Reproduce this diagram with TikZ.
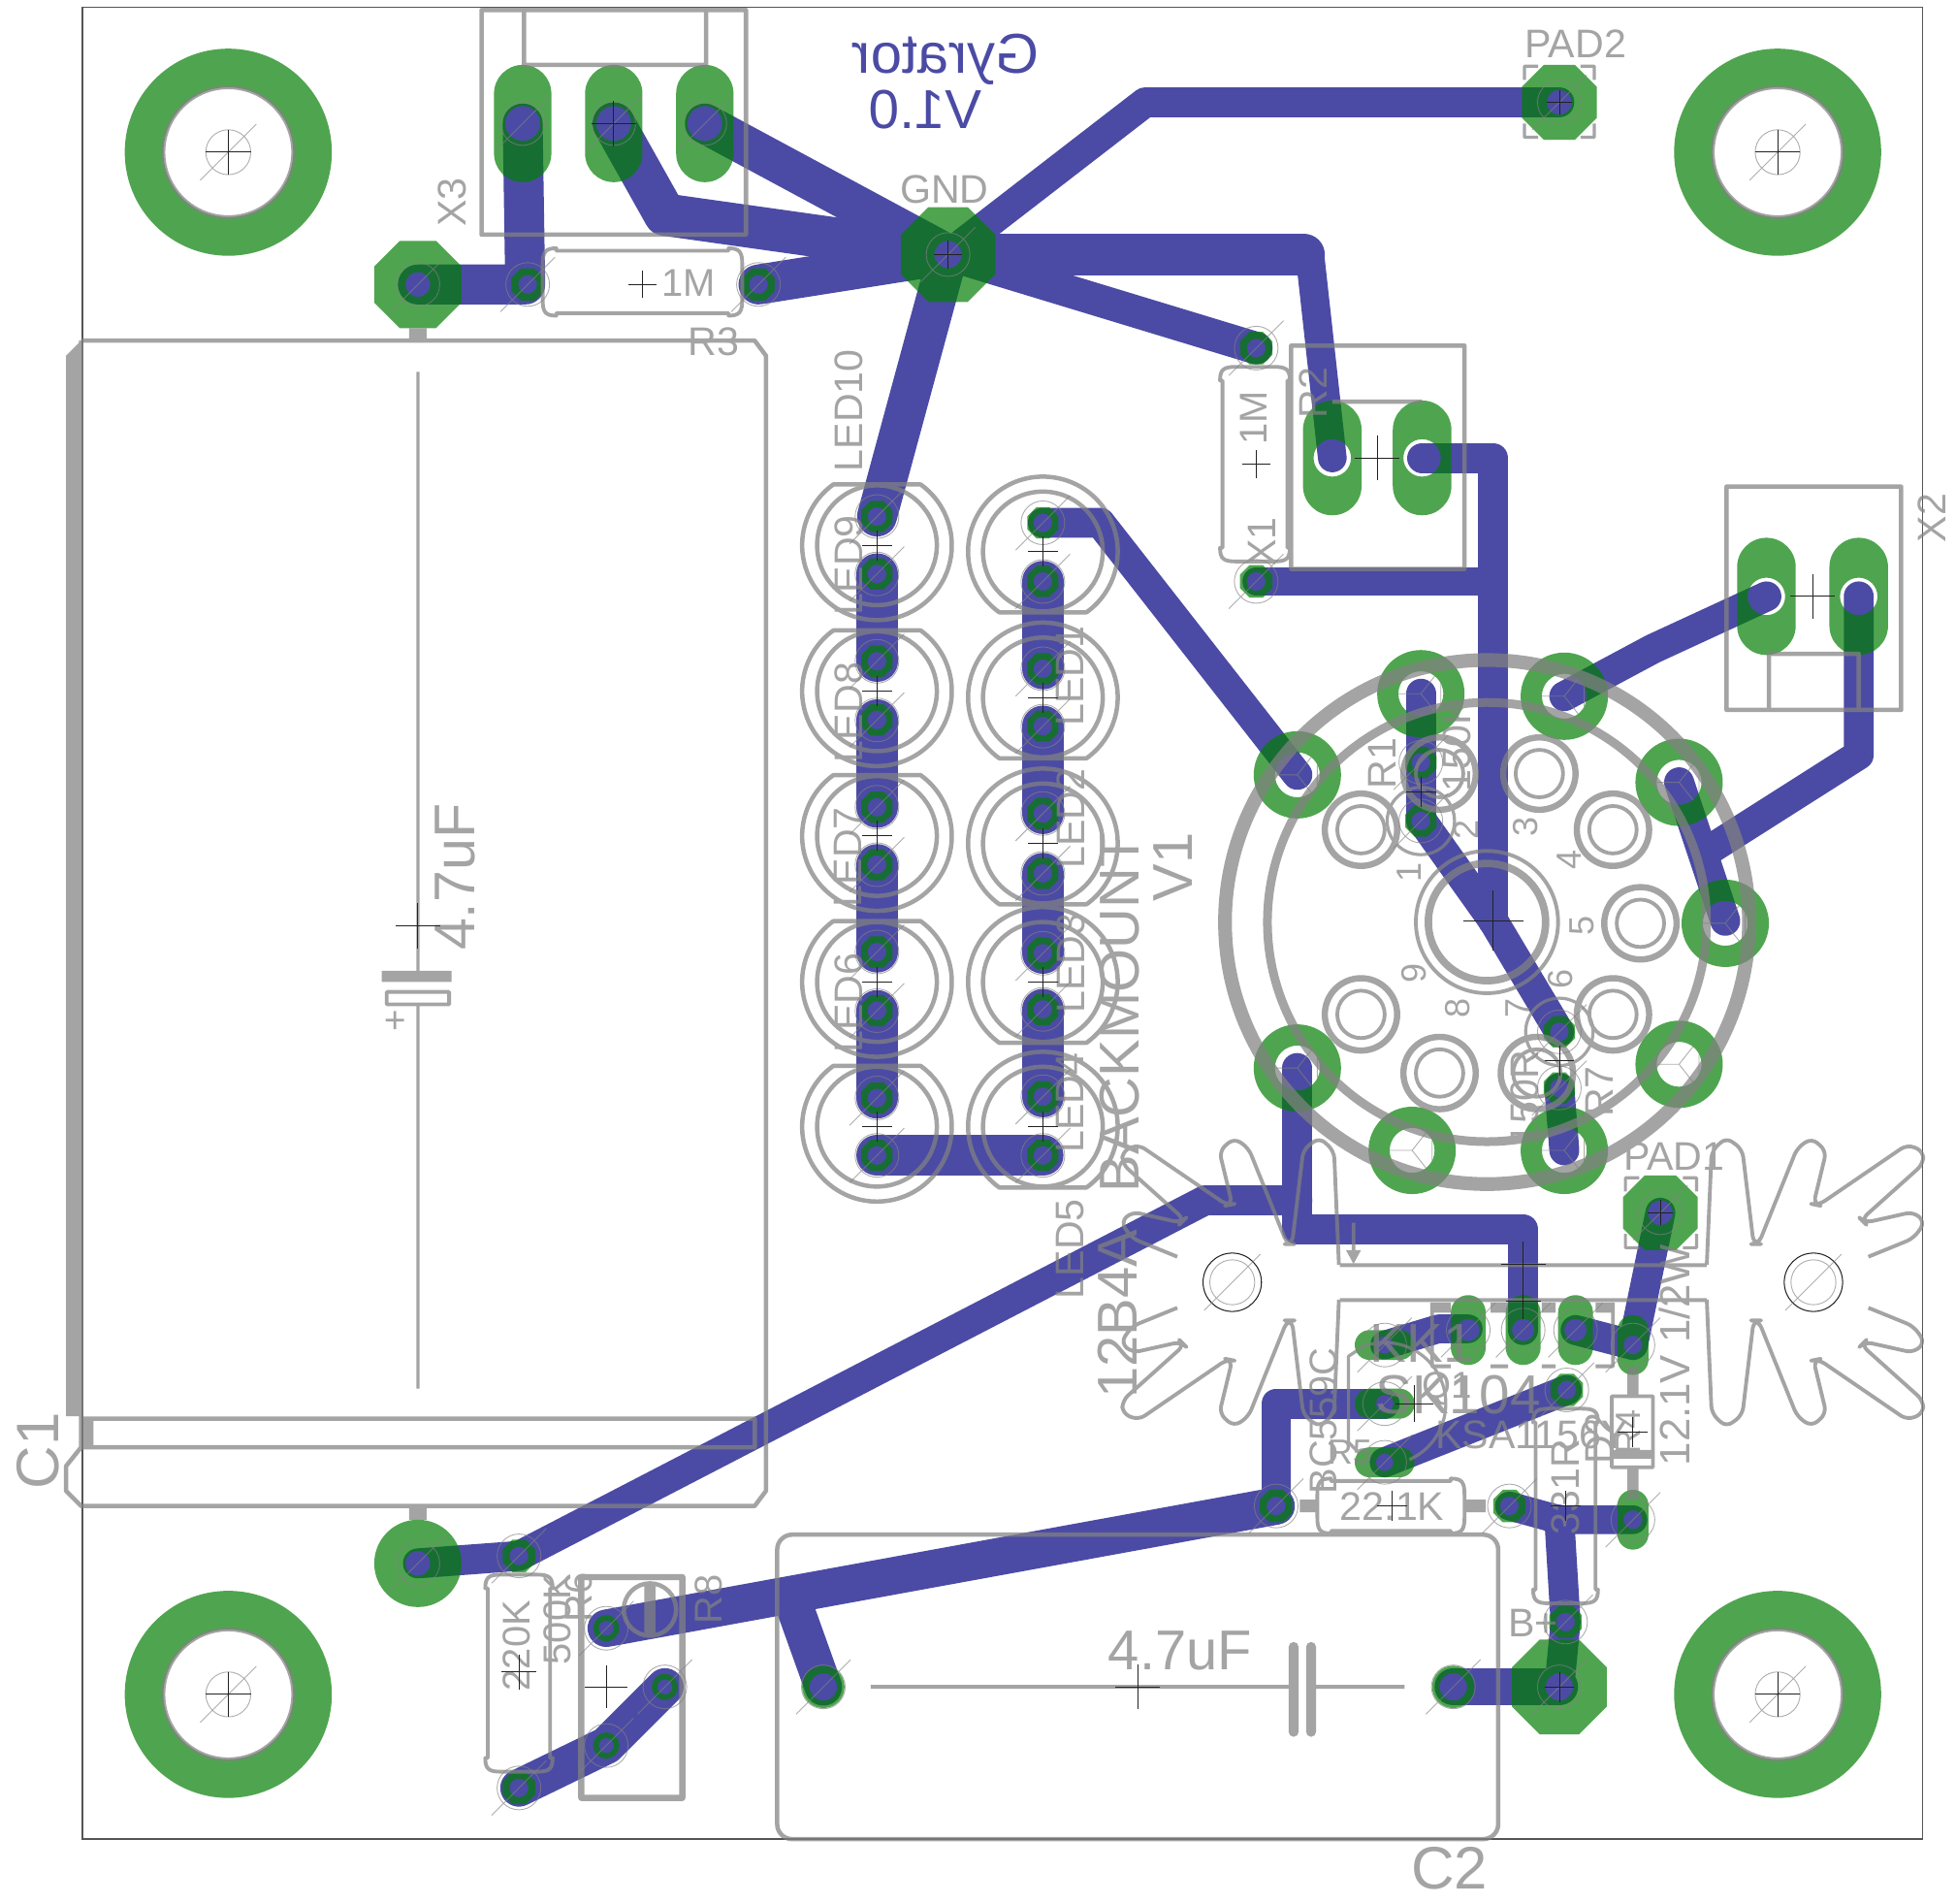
\documentclass[tikz,border=0pt]{standalone}
\usepackage{fontspec}
\setmainfont{Liberation Sans}
\definecolor{cu}{HTML}{4B4BA5}
\definecolor{padg}{HTML}{007E00}
\definecolor{silk}{HTML}{828282}
\definecolor{orig}{HTML}{222222}
\definecolor{edge}{HTML}{555555}
\tikzset{
  tr/.style={draw=cu,line cap=round,line join=round,line width=#1},
  padfill/.style={fill=padg,fill opacity=.69,even odd rule,draw=none},
  sk/.style={draw=silk,line width=3.5pt,line join=round,line cap=butt},
  thin grey/.style={draw=silk,draw opacity=.65,line width=.7pt},
  lbl/.style={text=silk,inner sep=0pt,outer sep=0pt,text depth=0pt},
}
\newcount\labn
\newcommand{\lab}[5]{\global\advance\labn by 1
  \node[lbl,rotate=#3,font=\fontsize{#4}{#4}\selectfont] (lab\the\labn) at (#1,#2) {#5};}
\newcommand{\octo}[3]{({#1-.414*#3},{#2-#3}) -- ({#1+.414*#3},{#2-#3}) -- ({#1+#3},{#2-.414*#3}) -- ({#1+#3},{#2+.414*#3}) -- ({#1+.414*#3},{#2+#3}) -- ({#1-.414*#3},{#2+#3}) -- ({#1-#3},{#2+.414*#3}) -- ({#1-#3},{#2-.414*#3}) -- cycle}
\newcommand{\octpad}[4]{\path[padfill] \octo{#1}{#2}{#3} (#1,#2) circle[radius=#4pt];}
\newcommand{\ringpad}[4]{\path[padfill] (#1,#2) circle[radius=#3pt] (#1,#2) circle[radius=#4pt];}
\newcommand{\oblong}[5]{\path[padfill] [rounded corners=\ifdim#3pt<#4pt #3pt\else #4pt\fi] ({#1-#3},{#2-#4}) rectangle ({#1+#3},{#2+#4}) [sharp corners] (#1,#2) circle[radius=#5pt];}
\newcommand{\drill}[3]{\draw[thin grey] (#1,#2) circle[radius=#3pt] ({#1-1.25*#3},{#2+1.25*#3}) -- ({#1+1.25*#3},{#2-1.25*#3});}
\newcommand{\xcr}[3]{\draw[orig,line width=.7pt] ({#1-#3},#2) -- ({#1+#3},#2) (#1,{#2-#3}) -- (#1,{#2+#3});}
\newcommand{\ylines}[2]{\draw[thin grey] ({#1-18},#2) -- (#1,#2) -- ({#1+11},{#2-14}) ({#1},#2) -- ({#1+11},{#2+14}) ({#1+16},{#2-8}) -- ({#1+16},{#2+8});}
\newcommand{\corners}[4]{\draw[sk,line width=2.5pt] (#1,{#2+11}) -- (#1,#2) -- ({#1+11},#2) ({#3-11},#2) -- (#3,#2) -- (#3,{#2+11}) (#3,{#4-11}) -- (#3,#4) -- ({#3-11},#4) ({#1+11},#4) -- (#1,#4) -- (#1,{#4-11});}
\newcommand{\resbody}[5]{\begin{scope}[shift={(#1,#2)},rotate=#5]
  \draw[sk,line width=3pt] ({-#3},{-#4+13}) .. controls ({-#3},{-#4+3}) and ({-#3+2},{-#4}) .. ({-#3+11},{-#4}) -- ({-#3+11},{-#4+2}) -- ({#3-11},{-#4+2}) -- ({#3-11},{-#4}) .. controls ({#3-2},{-#4}) and ({#3},{-#4+3}) .. ({#3},{-#4+13}) -- ({#3},{#4-13}) .. controls ({#3},{#4-3}) and ({#3-2},{#4}) .. ({#3-11},{#4}) -- ({#3-11},{#4-2}) -- ({-#3+11},{#4-2}) -- ({-#3+11},{#4}) .. controls ({-#3+2},{#4}) and ({-#3},{#4-3}) .. ({-#3},{#4-13}) -- cycle;
  \end{scope}}
\newcommand{\sinkhalf}{(-330,-54) -- (-315,-406) -- (-270,-448) -- (-220,-411) -- (-185,-118) -- (-170,-118) -- (-50,-416) -- (-5,-446) -- (40,-406) -- (0,-241) -- (15,-238) -- (290,-426) -- (340,-406) -- (340,-366) -- (148,-194) -- (158,-184) -- (310,-218) -- (345,-186) -- (310,-136) -- (170,-79)}
\newcommand{\sink}[3]{\begin{scope}[shift={(#1,#2)},x=#3*.2591pt,y=.2591pt]
  \draw[sk,line width=3pt,rounded corners=6pt] \sinkhalf;
  \end{scope}
  \begin{scope}[shift={(#1,#2)},x=#3*.2591pt,y=-.2591pt]
  \draw[sk,line width=3pt,rounded corners=6pt] \sinkhalf;
  \end{scope}}
\begin{document}
\begin{tikzpicture}[x=1pt,y=-1pt]
\useasboundingbox (0,0) rectangle (1568,1526);
\fill[white] (0,0) rectangle (1568,1526);
\draw[edge,line width=1pt] (66,6) rectangle (1541,1474);
% ---- copper ----
\draw[tr=32pt] (419,99) -- (421,228) -- (335,228);
\draw[tr=32pt] (565,99) -- (760,204);
\draw[tr=34pt] (492,99) -- (533,172) -- (760,204);
\draw[tr=32pt] (608,228) -- (760,204);
\draw[tr=24pt] (760,204) -- (918,82) -- (1250,82);
\draw[tr=34pt] (760,204) -- (1045,204);
\draw[tr=23pt] (1050,204) -- (1068,367);
\draw[tr=26pt] (760,204) -- (1007,279);
\draw[tr=32pt] (760,204) -- (703,414);
\draw[tr=24pt] (1140,367) -- (1197,367) -- (1197,738);
\draw[tr=22pt] (1007,466) -- (1197,466);
\draw[tr=24pt] (1140,658) -- (1197,738) -- (1250,827);
\draw[tr=24pt] (1139,556) -- (1139,658);
\draw[tr=24pt] (1254,558) -- (1325,520) -- (1416,478);
\draw[tr=24pt] (1490,478) -- (1490,605) -- (1372,680);
\draw[tr=24pt] (1346,627) -- (1383,738);
\draw[tr=24pt] (836,419) -- (882,419) -- (1040,621);
\draw[tr=24pt] (1250,872) -- (1254,922);
\draw[tr=33pt] (703,460) -- (703,530) (703,577) -- (703,647) (703,693) -- (703,763) (703,810) -- (703,880);
\draw[tr=33pt] (836,466) -- (836,536) (836,582) -- (836,652) (836,700) -- (836,764) (836,809) -- (836,879);
\draw[tr=33pt] (703,926) -- (836,926);
\draw[tr=24pt] (1040,856) -- (1040,985) -- (1221,985) -- (1221,1066);
\draw[tr=24pt] (1040,962) -- (966,962) -- (416,1247) -- (335,1253);
\draw[tr=30pt] (1023,1207) -- (486,1305);
\draw[tr=30pt] (636,1285) -- (660,1352);
\draw[tr=30pt] (416,1433) -- (486,1399) -- (533,1352);
\draw[tr=24pt] (1023,1207) -- (1023,1125) -- (1110,1125);
\draw[tr=24pt] (1110,1172) -- (1256,1114);
\draw[tr=23pt] (1110,1078) -- (1153,1065) -- (1177,1065);
\draw[tr=24pt] (1263,1066) -- (1309,1078) -- (1331,972);
\draw[tr=23pt] (1210,1207) -- (1250,1218) -- (1309,1218);
\draw[tr=24pt] (1250,1218) -- (1255,1300) -- (1250,1352);
\draw[tr=30pt] (1165,1352) -- (1250,1352);
% mirrored copper text
\node[text=cu,inner sep=0pt,text depth=0pt,xscale=-1,font=\fontsize{45}{45}\selectfont] (gyr) at (758,43) {Gyrator};
\node[text=cu,inner sep=0pt,text depth=0pt,xscale=-1,font=\fontsize{44}{44}\selectfont] (ver) at (742,88) {V1.0};
% ---- pads ----
\ringpad{183}{122}{83}{52}\ringpad{1425}{122}{83}{52}\ringpad{183}{1358}{83}{52}\ringpad{1425}{1358}{83}{52}
\oblong{419}{99}{23}{47}{14}\oblong{492}{99}{23}{47}{14}\oblong{565}{99}{23}{47}{14}
\octpad{335}{228}{35}{10}\octpad{423}{228}{13}{7.5}\octpad{608}{228}{13}{7.5}
\octpad{760}{204}{38}{11}\octpad{1250}{82}{30}{10}\octpad{1331}{972}{30}{10}
\octpad{1007}{279}{13}{7.5}\octpad{1007}{466}{13}{7.5}
\oblong{1068}{367}{23.5}{46}{15}\oblong{1140}{367}{23.5}{46}{15}
\oblong{1416}{478}{23.5}{47}{15}\oblong{1490}{478}{23.5}{47}{15}
\foreach \px/\py in {1040/621,1139/556,1254/558,1346/627,1383/740,1346/853,1254/922,1132/922,1040/856}{\ringpad{\px}{\py}{35}{18}}
\foreach \py in {414,460,530,577,647,693,763,810,880,926}{\octpad{703}{\py}{12.5}{7.5}}
\foreach \py in {419,466,536,582,652,700,764,809,879,926}{\octpad{836}{\py}{12.5}{7.5}}
\octpad{1139}{611}{12.5}{7.5}\octpad{1139}{658}{12.5}{7.5}\octpad{1250}{827}{12.5}{7.5}\octpad{1250}{872}{12.5}{7.5}
\ringpad{335}{1253}{35}{10}
\octpad{416}{1247}{13}{7.5}\octpad{416}{1433}{13}{7.5}
\ringpad{486}{1305}{10.5}{6}\ringpad{533}{1352}{10.5}{6}\ringpad{486}{1399}{10.5}{6}
\ringpad{660}{1352}{17}{11}\ringpad{1165}{1352}{17}{11}
\octpad{1250}{1352}{38}{11}\octpad{1255}{1300}{13}{7.5}
\octpad{1023}{1207}{13}{7.5}\octpad{1210}{1207}{13}{7.5}\octpad{1256}{1114}{13}{7.5}
\oblong{1110}{1078}{24}{12}{7}\oblong{1110}{1125}{24}{12}{7}\oblong{1110}{1172}{24}{12}{7}
\oblong{1177}{1066}{14}{28}{9}\oblong{1221}{1066}{14}{28}{9}\oblong{1263}{1066}{14}{28}{9}
\oblong{1309}{1078}{12.5}{24}{7.5}\oblong{1309}{1218}{12.5}{24}{7.5}
% ---- silk ----
\begin{scope}[transparency group,opacity=.72]
\draw[sk] (386,8) rectangle (598,188);
\draw[sk] (420,8) -- (420,52) -- (566,52) -- (566,8);
\resbody{515}{226}{80}{27}{0}
\resbody{1006}{372}{78}{28}{90}
\resbody{416}{1341}{79}{27}{90}
\resbody{1255}{1207}{78}{26}{90}
\resbody{1115}{1207}{59}{22}{0}
\draw[sk,line width=10pt] (1042,1207) -- (1056,1207) (1174,1207) -- (1191,1207);
\draw[sk] (1035,277) rectangle (1174,456);
\draw[sk] (1068,322) -- (1140,322);
\draw[sk] (1384,390) rectangle (1524,569);
\draw[sk] (1418,569) -- (1418,524) -- (1490,524) -- (1490,569);
\corners{1222}{53}{1278}{110}
\corners{1303}{944}{1360}{1000}
% C1
\draw[sk] (65,273) -- (605,273) -- (614,285) -- (614,1195) -- (605,1207) -- (65,1207) -- (53,1195) -- (53,1175) -- (65,1160) -- (65,273);
\fill[silk] (53,285) -- (65,273) -- (65,1135) -- (53,1135) -- cycle;
\fill[silk] (65,1137) rectangle (75,1160);
\draw[sk] (65,1137) -- (605,1137) -- (605,1160) -- (65,1160);
\fill[silk] (328,263) rectangle (342,273) (328,1207) rectangle (342,1218);
\draw[sk,line width=2.5pt] (335,298) -- (335,778) (335,805) -- (335,1113);
\fill[silk] (306,778) rectangle (362,787);
\draw[sk,line width=3pt] (310,795) rectangle (360,805);
% C2
\draw[sk,rounded corners=12pt] (623,1230) rectangle (1201,1474);
\draw[sk,line width=3pt] (698,1352) -- (1037,1352) (1051,1352) -- (1126,1352);
\draw[sk,line width=8pt,line cap=round] (1037,1320) -- (1037,1388) (1051,1320) -- (1051,1388);
% LEDs
\foreach \cy in {437,554,670,787,903}{
  \draw[sk] (703,\cy) ++(54.3:60pt) arc[start angle=54.3,delta angle=-288.6,radius=60pt] -- cycle;
  \draw[sk] (703,\cy) circle[radius=48pt];}
\foreach \cy in {442,559,676,787,903}{
  \draw[sk] (836,\cy) ++(-54.3:60pt) arc[start angle=-54.3,delta angle=288.6,radius=60pt] -- cycle;
  \draw[sk] (836,\cy) circle[radius=48pt];}
% tube socket
\draw[sk,line width=11pt] (1192,739) circle[radius=210pt];
\draw[sk,line width=7pt] (1192,739) circle[radius=176pt];
\draw[sk,line width=3pt] (1192,739) circle[radius=57pt];
\draw[sk,line width=6pt] (1192,739) circle[radius=47pt];
\foreach \px/\py in {1234/620,1293/665,1315/740,1293/813,1232/860,1154/860,1091/813,1091/665,1154/620}{
  \draw[sk,line width=5pt] (\px,\py) circle[radius=29pt];
  \draw[sk,line width=3pt] (\px,\py) circle[radius=19pt];}
\draw[sk,line width=2.5pt] (1139,658) circle[radius=27pt] (1250,827) circle[radius=27pt];
% heatsink
\sink{1453.7}{1027.7}{1}
\sink{987.8}{1027.7}{-1}
\draw[sk,line width=3pt] (1074,1014) -- (1368,1014) (1074,1042) -- (1368,1042);
\draw[sk,line width=3pt] (1085,980) -- (1085,1004);
\fill[silk] (1079,1002) -- (1091,1002) -- (1085,1013) -- cycle;
% TO-220
\draw[sk,line width=3pt] (1148,1044) -- (1148,1095) -- (1163,1095) (1195,1095) -- (1209,1095) (1236,1095) -- (1247,1095) (1279,1095) -- (1293,1095) -- (1293,1044);
\draw[sk,line width=8pt] (1148,1048) -- (1163,1048) (1195,1048) -- (1209,1048) (1236,1048) -- (1247,1048) (1279,1048) -- (1293,1048);
% TO-92
\draw[sk,line width=2.5pt] (1093,1079) -- (1081,1087) -- (1081,1156) -- (1090,1165);
\draw[sk,line width=2.5pt] (1110,1125) ++(110:49pt) arc[start angle=110,end angle=-66,radius=49pt];
% R4 / diode
\draw[sk,line width=3pt] (1292,1119) rectangle (1325,1176);
\fill[silk] (1292,1162) rectangle (1325,1169);
\draw[sk,line width=9pt] (1309,1096) -- (1309,1119) (1309,1176) -- (1309,1201);
% pot
\draw[sk,line width=5pt] (466,1264) rectangle (547,1441);
\draw[sk,line width=3.5pt] (521,1290) circle[radius=21pt];
\draw[sk,line width=9pt] (521,1269) -- (521,1311);
% mount hole edge rings
\foreach \px/\py in {183/122,1425/122,183/1358,1425/1358}{\draw[sk,line width=3pt] (\px,\py) circle[radius=52pt];}
% labels
\lab{757}{152}{0}{32}{GND}
\lab{1263}{35}{0}{32}{PAD2}
\lab{1342}{927}{0}{32}{PAD1}
\lab{362}{162}{90}{32}{X3}
\lab{552}{227}{0}{31}{1M}
\lab{572}{274}{0}{32}{R3}
\lab{1005}{335}{90}{31}{1M}
\lab{1053}{315}{90}{32}{R2}
\lab{1012}{434}{90}{32}{X1}
\lab{1549}{415}{90}{32}{X2}
\lab{365}{703}{90}{46}{4.7uF}
\lab{946}{1323}{0}{45}{4.7uF}
\lab{30}{1163}{90}{48}{C1}
\lab{1162}{1497}{0}{48}{C2}
\lab{318}{818}{90}{30}{+}
\lab{680}{329}{90}{32}{LED10}
\lab{680}{453}{90}{32}{LED9}
\lab{680}{571}{90}{32}{LED8}
\lab{680}{687}{90}{32}{LED7}
\lab{680}{804}{90}{32}{LED6}
\lab{858}{542}{90}{32}{LED1}
\lab{858}{656}{90}{32}{LED2}
\lab{858}{772}{90}{32}{LED3}
\lab{858}{884}{90}{32}{LED4}
\lab{858}{1001}{90}{32}{LED5}
\lab{897}{812}{90}{45}{BACKMOUNT}
\lab{940}{695}{90}{45}{V1}
\lab{896}{1053}{90}{45}{12B4A}
\lab{1108}{612}{90}{32}{R1}
\lab{1168}{597}{90}{32}{150K}
\lab{1282}{875}{90}{32}{R7}
\lab{1222}{880}{90}{32}{150R}
\lab{1130}{699}{90}{28}{1}
\lab{1175}{665}{90}{28}{2}
\lab{1223}{663}{90}{28}{3}
\lab{1258}{689}{90}{28}{4}
\lab{1268}{742}{90}{28}{5}
\lab{1251}{785}{90}{28}{6}
\lab{1217}{808}{90}{28}{7}
\lab{1168}{808}{90}{28}{8}
\lab{1133}{780}{90}{28}{9}
\lab{1140}{1077}{0}{44}{KK1}
\lab{1169}{1118}{0}{44}{SK104}
\lab{1160}{1110}{0}{30}{Q1}
\lab{1228}{1150}{0}{32}{KSA1156Y}
\lab{1061}{1139}{90}{31}{BC559C}
\lab{1082}{1164}{0}{28}{R5}
\lab{1116}{1207}{0}{32}{22.1K}
\lab{1255}{1192}{90}{32}{331R}
\lab{1282}{1153}{90}{32}{D2}
\lab{1305}{1148}{90}{28}{R4}
\lab{1342}{1086}{90}{34}{12.1V 1/2W}
\lab{1229}{1301}{0}{32}{B+}
\lab{414}{1319}{90}{31}{220K}
\lab{447}{1298}{90}{31}{500K}
\lab{464}{1280}{90}{31}{R6}
\lab{568}{1282}{90}{31}{R8}
\end{scope}
% ---- drills and origins ----
\foreach \px/\py in {183/122,1425/122,183/1358,1425/1358}{\drill{\px}{\py}{18}\xcr{\px}{\py}{18}}
\foreach \px/\py in {419/99,492/99,565/99,335/228,423/228,608/228,760/204,1250/82,1331/972,1007/279,1007/466,1139/611,1139/658,1250/827,1250/872,335/1253,416/1247,416/1433,486/1305,533/1352,486/1399,660/1352,1165/1352,1250/1352,1255/1300,1023/1207,1210/1207,1256/1114,1110/1078,1110/1125,1110/1172,1177/1066,1221/1066,1263/1066,1309/1078,1309/1218}{\drill{\px}{\py}{17.5}}
\foreach \py in {414,460,530,577,647,693,763,810,880,926}{\drill{703}{\py}{17.5}}
\foreach \py in {419,466,536,582,652,700,764,809,879,926}{\drill{836}{\py}{17.5}}
\foreach \px/\py in {1040/621,1139/556,1254/558,1346/627,1383/740,1346/853,1254/922,1132/922,1040/856}{\ylines{\px}{\py}}
\foreach \px in {987.8,1453.7}{\draw[orig,line width=.8pt] (\px,1027.7) circle[radius=23.4pt];\drill{\px}{1027.7}{18}}
\foreach \py in {437,554,670,787,903}{\xcr{703}{\py}{12}}
\foreach \py in {442,559,676,787,903}{\xcr{836}{\py}{12}}
\xcr{492}{99}{18}\xcr{515}{228}{11}\xcr{760}{204}{11}\xcr{1250}{82}{10}\xcr{1331}{972}{10}
\xcr{1104}{367}{18}\xcr{1453}{478}{18}\xcr{1007}{372}{11}\xcr{1197}{738}{24}
\xcr{335}{742}{18}\xcr{912}{1352}{18}\xcr{486}{1352}{17}\xcr{416}{1340}{14}
\xcr{1139}{635}{12}\xcr{1250}{850}{12}\xcr{1221}{1013}{18}\xcr{1221}{1043}{14}
\xcr{1116}{1207}{12}\xcr{1255}{1207}{12}\xcr{1309}{1148}{12}\xcr{1134}{1125}{15}\xcr{1250}{1352}{12}
\end{tikzpicture}
\end{document}
